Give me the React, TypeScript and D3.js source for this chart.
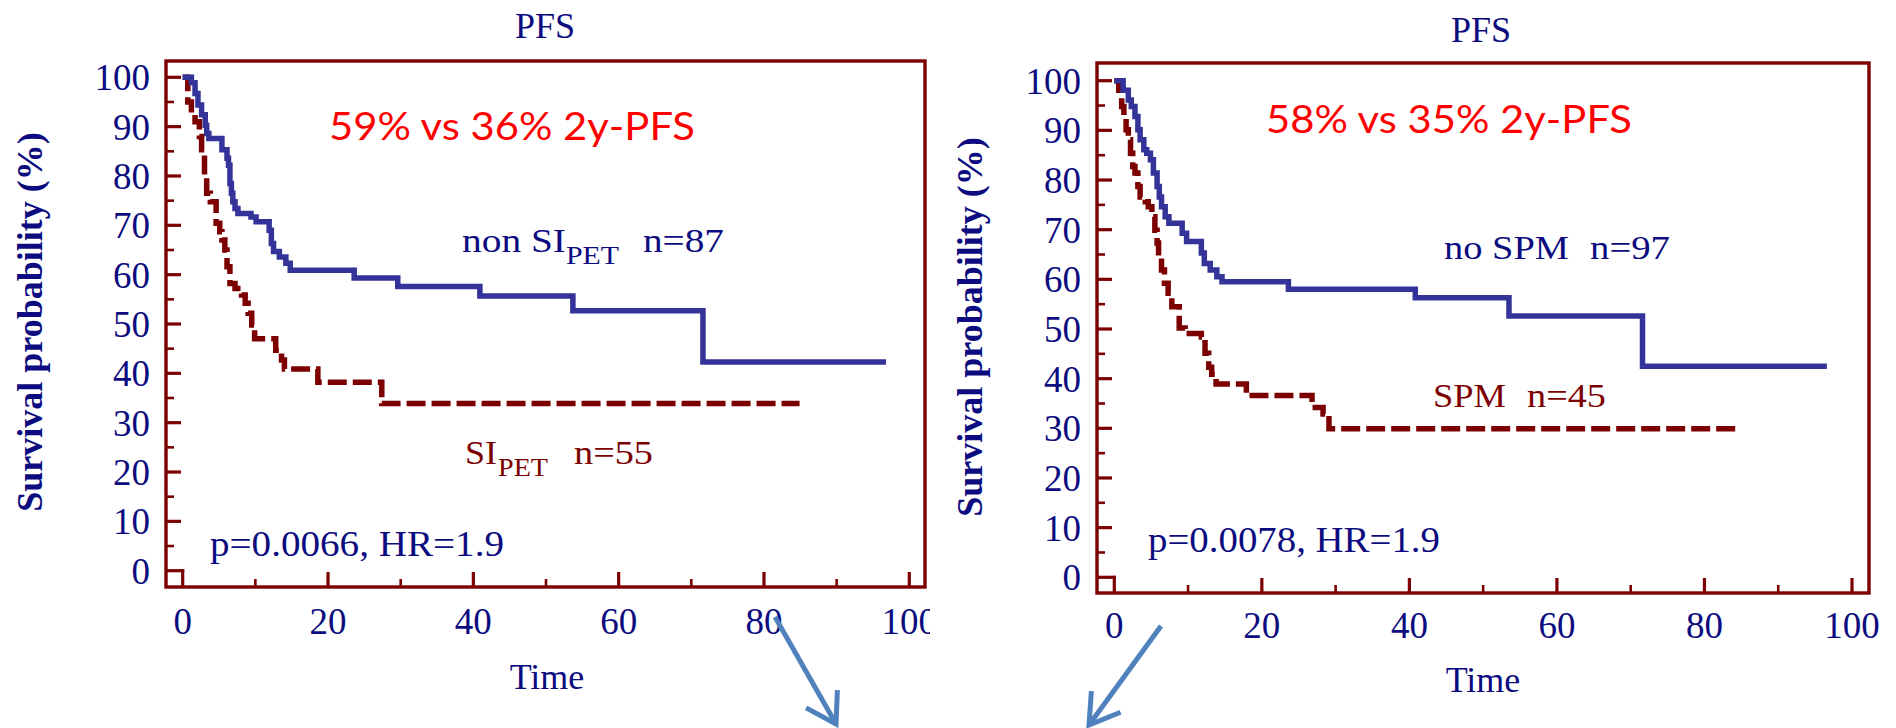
import React from "react";
import * as d3 from "d3";

const W = 1896;
const H = 728;

// ---- data ----
const xMajorTicks = [0, 20, 40, 60, 80, 100];
const xMinorTicks = [10, 30, 50, 70, 90];
const yMajorTicks = [0, 10, 20, 30, 40, 50, 60, 70, 80, 90, 100];
const yMinorTicks = [5, 15, 25, 35, 45, 55, 65, 75, 85, 95];

// [time, survival after step]
const leftNonSiPet: [number, number][] = [
  [0, 100], [1.2, 98.9], [1.7, 96.7], [2.1, 94.4], [2.6, 92.4], [3.1, 90.3], [3.3, 88.6],
  [3.6, 87.6], [5.4, 85.3], [6.1, 83.6], [6.3, 82.2], [6.5, 78.5], [6.7, 76.5], [6.9, 74.8],
  [7.2, 73.4], [7.6, 72.4], [9.4, 71.7], [10.1, 70.7], [11.9, 69.0], [12.2, 66.3], [12.5, 64.7],
  [13.3, 63.6], [14.2, 62.3], [14.8, 60.9], [23.6, 59.3], [29.6, 57.6], [40.9, 55.7],
  [53.7, 52.7], [71.6, 42.3], [96.8, 42.3],
];
const leftSiPet: [number, number][] = [
  [0, 100], [0.7, 95.0], [1.2, 92.7], [1.7, 91.0], [2.3, 88.0], [2.6, 85.3], [3.0, 79.9],
  [3.3, 76.5], [3.8, 74.8], [4.6, 70.4], [5.1, 68.7], [5.4, 67.0], [5.8, 65.0], [6.1, 61.6],
  [6.5, 58.2], [7.2, 57.2], [8.1, 55.9], [8.6, 54.2], [9.0, 52.2], [9.5, 49.8], [9.9, 47.0],
  [12.8, 44.7], [13.6, 42.7], [14.0, 40.9], [18.6, 38.2], [27.4, 33.9], [84.9, 33.9],
];
const rightNoSpm: [number, number][] = [
  [0, 100], [1.2, 98.1], [1.9, 96.1], [2.3, 94.8], [2.8, 92.8], [3.2, 90.1], [3.5, 88.1],
  [4.0, 86.1], [4.4, 85.4], [4.9, 84.1], [5.3, 81.4], [5.8, 78.7], [6.1, 76.6], [6.4, 74.6],
  [6.9, 72.6], [7.4, 71.3], [9.2, 69.3], [9.8, 67.6], [11.8, 65.3], [12.2, 63.2], [13.0, 61.9],
  [13.9, 60.5], [14.6, 59.5], [23.6, 58.0], [40.8, 56.3], [53.5, 52.6], [71.6, 42.5],
  [96.6, 42.5],
];
const rightSpm: [number, number][] = [
  [0, 100], [0.6, 98.1], [1.0, 94.8], [1.3, 92.8], [1.6, 90.1], [1.9, 88.1], [2.2, 85.4],
  [2.5, 82.7], [2.8, 81.4], [3.2, 78.7], [3.5, 76.6], [4.2, 75.6], [4.6, 74.6], [5.1, 72.6],
  [5.5, 69.9], [5.8, 67.3], [6.0, 64.6], [6.4, 61.9], [6.8, 59.2], [7.3, 57.2], [7.8, 54.5],
  [8.8, 50.2], [9.6, 49.1], [11.8, 48.4], [12.3, 45.1], [12.8, 42.3], [13.2, 40.9],
  [13.8, 38.9], [17.9, 36.6], [26.8, 34.2], [28.3, 32.9], [29.1, 29.9], [84.9, 29.9],
];

const titles = ["PFS", "PFS"];
const highlights = ["59% vs 36% 2y-PFS", "58% vs 35% 2y-PFS"];
const pValues = ["p=0.0066, HR=1.9", "p=0.0078, HR=1.9"];
const xAxisTitle = "Time";
const yAxisTitle = "Survival probability (%)";

// ---- styling / layout ----
const NAVY = "#0c0c80";
const MAROON = "#7d0000";
const BLUE = "#333399";
const RED = "#ff0000";
const ARROW = "#4f81bd";
const SERIF = "'Liberation Serif', 'Times New Roman', serif";
const SANS = "Lato, 'Open Sans', sans-serif";

type Part = { text: string; x: number; len: number; sub?: boolean };
type Panel = {
  frame: { x0: number; x1: number; y0: number; y1: number };
  xr: [number, number];
  yr: [number, number];
  clipX: number;
  good: [number, number][];
  bad: [number, number][];
  title: string;
  highlight: string;
  pval: string;
  titleX: number; titleY: number;
  hlX: number; hlY: number; hlLen: number;
  yTitleX: number; yTitleY: number;
  xLabelY: number;
  timeX: number; timeY: number;
  pX: number; pY: number; pLen: number;
  goodLabel: { y: number; parts: Part[] };
  badLabel: { y: number; parts: Part[] };
};

const panels: Panel[] = [
  {
    frame: { x0: 166, x1: 925, y0: 61, y1: 587 },
    xr: [182.7, 909.3],
    yr: [570.7, 77.3],
    clipX: 930,
    good: leftNonSiPet,
    bad: leftSiPet,
    title: titles[0],
    highlight: highlights[0],
    pval: pValues[0],
    titleX: 545, titleY: 38,
    hlX: 329, hlY: 140, hlLen: 366,
    yTitleX: 42, yTitleY: 322,
    xLabelY: 634,
    timeX: 547, timeY: 689,
    pX: 210, pY: 556, pLen: 294,
    goodLabel: {
      y: 252,
      parts: [
        { text: "non SI", x: 462, len: 104 },
        { text: "PET", x: 566, len: 53, sub: true },
        { text: "n=87", x: 643, len: 81 },
      ],
    },
    badLabel: {
      y: 464,
      parts: [
        { text: "SI", x: 465, len: 32 },
        { text: "PET", x: 498, len: 50, sub: true },
        { text: "n=55", x: 574, len: 79 },
      ],
    },
  },
  {
    frame: { x0: 1097, x1: 1869, y0: 63, y1: 593 },
    xr: [1114.3, 1852],
    yr: [577.3, 80.7],
    clipX: W,
    good: rightNoSpm,
    bad: rightSpm,
    title: titles[1],
    highlight: highlights[1],
    pval: pValues[1],
    titleX: 1481, titleY: 41.7,
    hlX: 1266, hlY: 133, hlLen: 366,
    yTitleX: 982, yTitleY: 327,
    xLabelY: 638,
    timeX: 1483, timeY: 692,
    pX: 1148, pY: 552, pLen: 292,
    goodLabel: {
      y: 259,
      parts: [
        { text: "no SPM", x: 1444, len: 125 },
        { text: "n=97", x: 1590, len: 80 },
      ],
    },
    badLabel: {
      y: 407,
      parts: [
        { text: "SPM", x: 1433, len: 73 },
        { text: "n=45", x: 1527, len: 79 },
      ],
    },
  },
];

const arrows = [
  { from: [775, 617], to: [836, 724] },
  { from: [1161, 626], to: [1089, 725] },
];

function PanelView({ p, idx }: { p: Panel; idx: number }) {
  const x = d3.scaleLinear().domain([0, 100]).range(p.xr);
  const y = d3.scaleLinear().domain([0, 100]).range(p.yr);
  const line = d3
    .line<[number, number]>()
    .x((d) => x(d[0]))
    .y((d) => y(d[1]))
    .curve(d3.curveStepAfter);
  const f = p.frame;
  const clipId = `clip-${idx}`;
  return (
    <g clipPath={`url(#${clipId})`}>
      <defs>
        <clipPath id={clipId}>
          <rect x={0} y={0} width={p.clipX} height={H} />
        </clipPath>
      </defs>
      <text x={p.titleX} y={p.titleY} textAnchor="middle" fontFamily={SERIF} fontSize={36} fill={NAVY}>
        {p.title}
      </text>
      {yMajorTicks.map((t) => (
        <line key={`ym${t}`} x1={f.x0} x2={t === 0 ? x(0) + 1.5 : f.x0 + 15} y1={y(t)} y2={y(t)} stroke={MAROON} strokeWidth={3.2} />
      ))}
      {yMinorTicks.map((t) => (
        <line key={`yn${t}`} x1={f.x0} x2={f.x0 + 8} y1={y(t)} y2={y(t)} stroke={MAROON} strokeWidth={2.6} />
      ))}
      {xMajorTicks.map((t) => (
        <line key={`xm${t}`} x1={x(t)} x2={x(t)} y1={f.y1} y2={t === 0 ? y(0) - 1.5 : f.y1 - 15} stroke={MAROON} strokeWidth={3.2} />
      ))}
      {xMinorTicks.map((t) => (
        <line key={`xn${t}`} x1={x(t)} x2={x(t)} y1={f.y1} y2={f.y1 - 8} stroke={MAROON} strokeWidth={2.6} />
      ))}
      <rect x={f.x0} y={f.y0} width={f.x1 - f.x0} height={f.y1 - f.y0} fill="none" stroke={MAROON} strokeWidth={3.4} />
      {yMajorTicks.map((t) => (
        <text key={`yl${t}`} x={f.x0 - 16} y={y(t)} dy="0.35em" textAnchor="end" fontFamily={SERIF} fontSize={37} fill={NAVY}>
          {t}
        </text>
      ))}
      {xMajorTicks.map((t) => (
        <text key={`xl${t}`} x={x(t)} y={p.xLabelY} textAnchor="middle" fontFamily={SERIF} fontSize={37} fill={NAVY}>
          {t}
        </text>
      ))}
      <text x={p.timeX} y={p.timeY} textAnchor="middle" fontFamily={SERIF} fontSize={36} fill={NAVY}>
        {xAxisTitle}
      </text>
      <text
        transform={`translate(${p.yTitleX},${p.yTitleY}) rotate(-90)`}
        textAnchor="middle"
        fontFamily={SERIF}
        fontSize={36}
        fontWeight="bold"
        fill={NAVY}
      >
        {yAxisTitle}
      </text>
      <path d={line(p.bad) || ""} fill="none" stroke={MAROON} strokeWidth={5.5} strokeDasharray="19,6" />
      <path d={line(p.good) || ""} fill="none" stroke={BLUE} strokeWidth={5.5} />
      <text x={p.hlX} y={p.hlY} fontFamily={SANS} fontSize={39} fill={RED} textLength={p.hlLen} lengthAdjust="spacingAndGlyphs">
        {p.highlight}
      </text>
      <text x={p.pX} y={p.pY} fontFamily={SERIF} fontSize={36} fill={NAVY} textLength={p.pLen} lengthAdjust="spacingAndGlyphs">
        {p.pval}
      </text>
      {[{ lab: p.goodLabel, col: NAVY }, { lab: p.badLabel, col: MAROON }].map(({ lab, col }, i) => (
        <g key={`lab${i}`}>
          {lab.parts.map((part, j) => (
            <text
              key={j}
              x={part.x}
              y={part.sub ? lab.y + 11.5 : lab.y}
              fontFamily={SERIF}
              fontSize={part.sub ? 25 : 34}
              fill={col}
              textLength={part.len}
              lengthAdjust="spacingAndGlyphs"
            >
              {part.text}
            </text>
          ))}
        </g>
      ))}
    </g>
  );
}

function Arrow({ from, to }: { from: number[]; to: number[] }) {
  const ang = Math.atan2(to[1] - from[1], to[0] - from[0]);
  const len = 34;
  const spread = (32 * Math.PI) / 180;
  const b1 = [to[0] - len * Math.cos(ang - spread), to[1] - len * Math.sin(ang - spread)];
  const b2 = [to[0] - len * Math.cos(ang + spread), to[1] - len * Math.sin(ang + spread)];
  return (
    <g stroke={ARROW} strokeWidth={5} fill="none" strokeLinecap="butt">
      <line x1={from[0]} y1={from[1]} x2={to[0]} y2={to[1]} />
      <polyline points={`${b1[0]},${b1[1]} ${to[0]},${to[1]} ${b2[0]},${b2[1]}`} strokeLinejoin="miter" />
    </g>
  );
}

export default function App() {
  return (
    <div style={{ position: "absolute", left: 0, top: 0, width: W, height: H, background: "#fff" }}>
      <svg width={W} height={H} viewBox={`0 0 ${W} ${H}`} style={{ display: "block" }}>
        <rect x={0} y={0} width={W} height={H} fill="#ffffff" />
        {panels.map((p, i) => (
          <PanelView key={i} p={p} idx={i} />
        ))}
        {arrows.map((a, i) => (
          <Arrow key={i} from={a.from} to={a.to} />
        ))}
      </svg>
    </div>
  );
}
